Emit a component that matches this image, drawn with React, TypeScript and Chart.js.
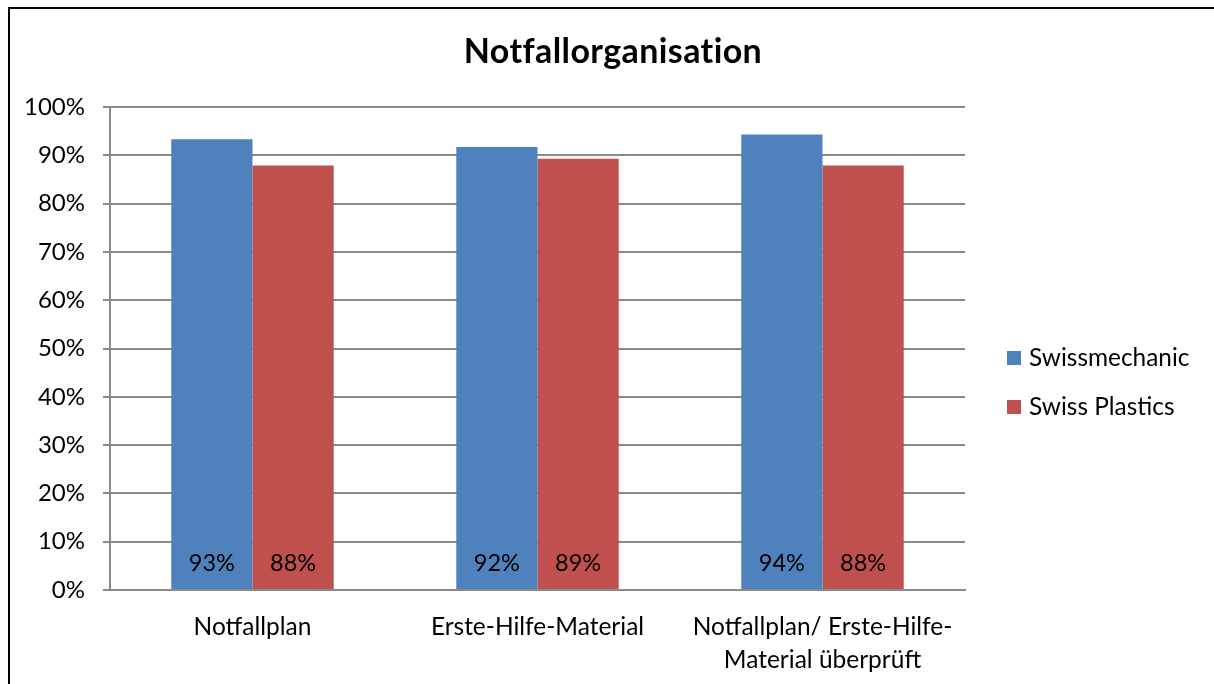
import React, { useEffect, useRef } from "react";
import { Chart, registerables } from "chart.js";

Chart.register(...registerables);

const chartTitle = "Notfallorganisation";
const categories: string[][] = [
  ["Notfallplan"],
  ["Erste-Hilfe-Material"],
  ["Notfallplan/ Erste-Hilfe-", "Material überprüft"],
];
const seriesNames = ["Swissmechanic", "Swiss Plastics"];
const swissmechanicValues = [0.933, 0.917, 0.943];
const swissPlasticsValues = [0.879, 0.893, 0.879];
const seriesColors = ["#4F81BD", "#C0504D"];
const yMin = 0;
const yMax = 1;
const yStep = 0.1;

const FONT = "Lato, 'Open Sans', sans-serif";

const pct = (v: number) => Math.round(v * 100) + "%";

const framePlugin = {
  id: "frame",
  beforeDraw(chart: any) {
    const ctx = chart.ctx;
    ctx.save();
    ctx.fillStyle = "#ffffff";
    ctx.fillRect(0, 0, chart.width, chart.height);
    ctx.fillStyle = "#000000";
    ctx.fillRect(0, 0, 2, chart.height);
    ctx.fillRect(0, 0, chart.width, 2);
    ctx.restore();
  },
};

const titlePlugin = {
  id: "titleText",
  afterDraw(chart: any) {
    const ctx = chart.ctx;
    ctx.save();
    ctx.font = `bold 34px ${FONT}`;
    try {
      (ctx as any).letterSpacing = "0.4px";
    } catch (e) {}
    ctx.fillStyle = "#000000";
    ctx.textAlign = "center";
    ctx.textBaseline = "middle";
    ctx.fillText(chartTitle, chart.width / 2 + 2, 45);
    ctx.restore();
  },
};

const valueLabelPlugin = {
  id: "valueLabels",
  afterDatasetsDraw(chart: any) {
    const ctx = chart.ctx;
    const yScale = chart.scales.y;
    const base = yScale.getPixelForValue(0);
    ctx.save();
    ctx.font = `23.5px ${FONT}`;
    ctx.fillStyle = "#000000";
    ctx.textAlign = "center";
    ctx.textBaseline = "middle";
    chart.data.datasets.forEach((ds: any, di: number) => {
      const meta = chart.getDatasetMeta(di);
      meta.data.forEach((el: any, i: number) => {
        ctx.fillText(pct(ds.data[i]), el.x, base - 27);
      });
    });
    ctx.restore();
  },
};

const legendPlugin = {
  id: "customLegend",
  afterDraw(chart: any) {
    const ctx = chart.ctx;
    ctx.save();
    ctx.font = `24.4px ${FONT}`;
    ctx.textAlign = "left";
    ctx.textBaseline = "middle";
    const ys = [351, 400];
    chart.data.datasets.forEach((ds: any, i: number) => {
      ctx.fillStyle = ds.backgroundColor;
      ctx.fillRect(999, ys[i] - 7, 14, 14);
      ctx.fillStyle = "#000000";
      ctx.fillText(ds.label, 1021, ys[i]);
    });
    ctx.restore();
  },
};

export default function App() {
  const canvasRef = useRef<HTMLCanvasElement | null>(null);

  useEffect(() => {
    if (!canvasRef.current) return;
    const chart = new Chart(canvasRef.current, {
      type: "bar",
      data: {
        labels: categories,
        datasets: [
          {
            label: seriesNames[0],
            data: swissmechanicValues,
            backgroundColor: seriesColors[0],
            borderWidth: 0,
          },
          {
            label: seriesNames[1],
            data: swissPlasticsValues,
            backgroundColor: seriesColors[1],
            borderWidth: 0,
          },
        ],
      },
      options: {
        animation: false,
        responsive: false,
        maintainAspectRatio: false,
        devicePixelRatio: 1,
        layout: { padding: { top: 100, right: 249, left: 0, bottom: 0 } },
        plugins: {
          legend: { display: false },
          title: { display: false },
          tooltip: { enabled: false },
        },
        datasets: {
          bar: { categoryPercentage: 0.57, barPercentage: 1.0 },
        },
        scales: {
          x: {
            grid: { display: false },
            border: { display: true, color: "#8a8a8a", width: 2 },
            ticks: {
              color: "#000000",
              font: { family: FONT, size: 24.5, lineHeight: 1.36 },
              padding: 12,
              maxRotation: 0,
              autoSkip: false,
            },
            afterFit(scale: any) {
              scale.height = 94;
            },
          },
          y: {
            min: yMin,
            max: yMax,
            grid: { color: "#8a8a8a", lineWidth: 2, tickLength: 7, drawTicks: true },
            border: { display: true, color: "#8a8a8a", width: 2 },
            ticks: {
              stepSize: yStep,
              color: "#000000",
              font: { family: FONT, size: 24 },
              padding: 18,
              callback: (v: any) => pct(Number(v)),
            },
            afterFit(scale: any) {
              scale.width = 102;
            },
          },
        },
      },
      plugins: [framePlugin, titlePlugin, valueLabelPlugin, legendPlugin],
    });
    return () => chart.destroy();
  }, []);

  return (
    <div style={{ position: "absolute", left: 8, top: 7, width: 1206, height: 677 }}>
      <canvas ref={canvasRef} width={1206} height={677} style={{ width: 1206, height: 677 }} />
    </div>
  );
}
